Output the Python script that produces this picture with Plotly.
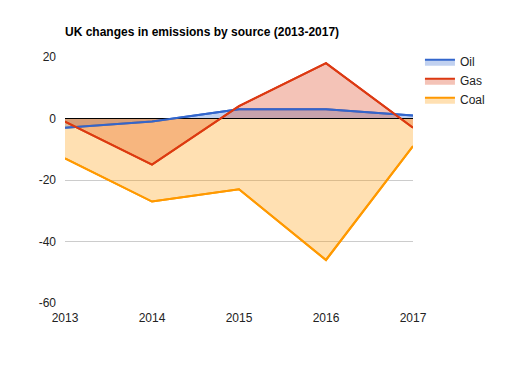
import plotly.graph_objects as go

years = ["2013", "2014", "2015", "2016", "2017"]
oil = [-3, -1, 3, 3, 1]
gas = [-1, -15, 4, 18, -3]
coal = [-13, -27, -23, -46, -9]
y_ticks = [-60, -40, -20, 0, 20]
y_ticktext = ["-60", "-40", "-20", "0", "20"]

series = [("Oil", oil, "#3366cc", "rgba(51,102,204,0.3)"),
          ("Gas", gas, "#dc3912", "rgba(220,57,18,0.3)"),
          ("Coal", coal, "#ff9900", "rgba(255,153,0,0.3)")]
xs = [int(y) for y in years]

fig = go.Figure()
for name, vals, col, fcol in series:
    fig.add_trace(go.Scatter(x=xs, y=vals, name=name, mode="lines",
                             line=dict(color=col, width=2), fill="tozeroy", fillcolor=fcol))
# baseline above fills, below lines
fig.add_trace(go.Scatter(x=[xs[0], xs[-1]], y=[0, 0], mode="lines", showlegend=False,
                         hoverinfo="skip", line=dict(color="#000000", width=1)))
for name, vals, col, fcol in series:
    fig.add_trace(go.Scatter(x=xs, y=vals, name=name, mode="lines", showlegend=False,
                             line=dict(color=col, width=2)))

W, H = 510, 377
fig.update_layout(
    width=W, height=H,
    margin=dict(l=57, r=105, t=49, b=82),
    paper_bgcolor="white", plot_bgcolor="white",
    font=dict(family="Liberation Sans, Arial", size=12, color="#222"),
    title=dict(text="<b>UK changes in emissions by source (2013-2017)</b>",
               x=57/W, xanchor="left", y=1-24/H, yanchor="middle",
               font=dict(size=12, color="#000")),
    xaxis=dict(range=[2013, 2017], tickvals=xs, ticktext=years,
               showgrid=False, zeroline=False, showline=False, ticks="",
               ticklabelstandoff=6),
    yaxis=dict(range=[-60, 20], tickvals=y_ticks, ticktext=y_ticktext,
               showgrid=True, gridcolor="#cccccc", gridwidth=1,
               zeroline=False, showline=False, ticks="", ticklabelstandoff=8),
    legend=dict(x=1.02, xanchor="left", y=1.04, yanchor="top",
                font=dict(size=12, color="#222"), tracegroupgap=2),
)
fig.write_html("out.html")
